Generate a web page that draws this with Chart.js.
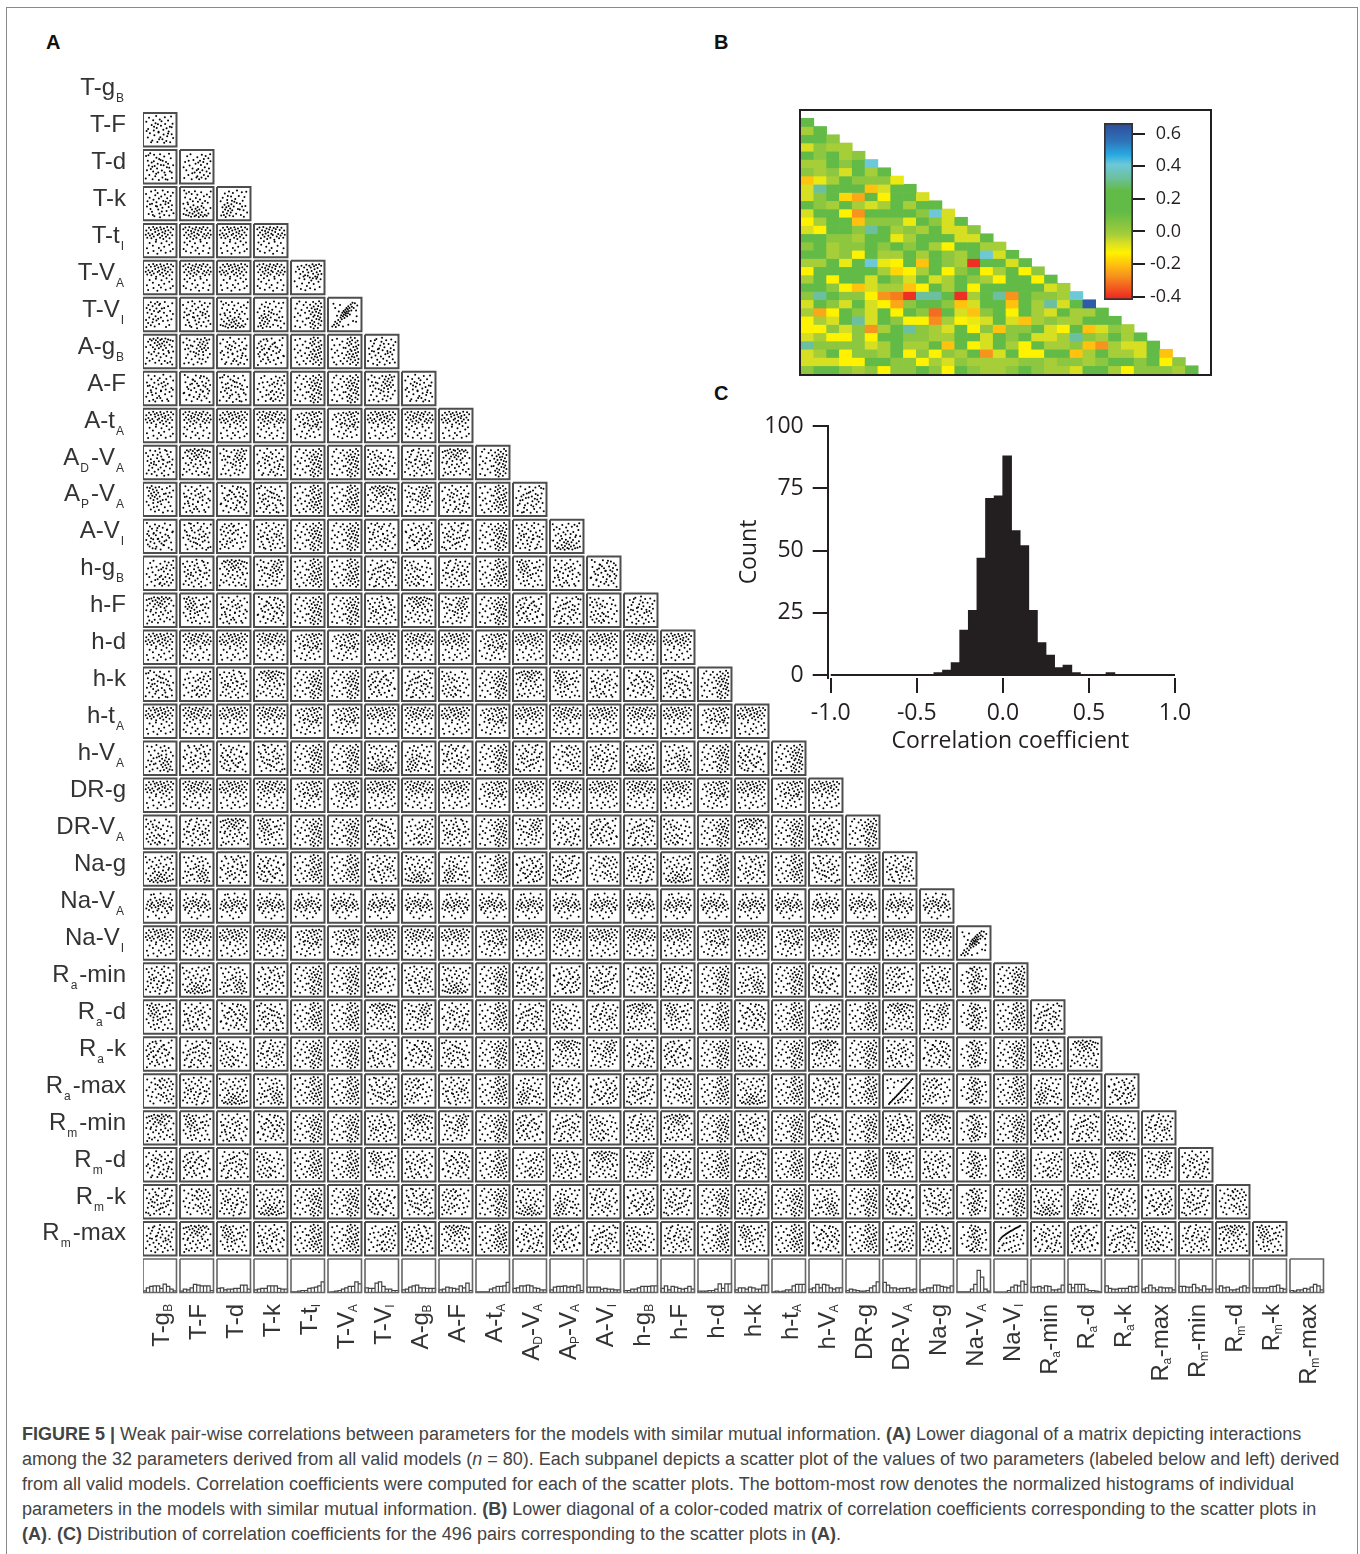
<!DOCTYPE html>
<html>
<head>
<meta charset="utf-8">
<script src="https://cdn.jsdelivr.net/npm/chart.js@4"></script>
<style>
  body { margin: 0; background: #fff; color: #231f20; font-family: "Liberation Sans", sans-serif; }
  #page { position: relative; width: 1360px; height: 1554px; overflow: hidden; }
  #page canvas { position: absolute; }
  .outline { position: absolute; left: 6px; top: 7px; width: 1350px; height: 1560px; border: 1px solid #8a8a8a; }
  .letter { position: absolute; font-weight: bold; font-size: 20px; color: #111; }
  .rowLabel { position: absolute; right: 1234px; font-size: 24px; line-height: 28px; white-space: nowrap; color: #333; }
  .colLabel { position: absolute; top: 1304px; font-size: 24px; line-height: 28px; white-space: nowrap; color: #333;
              writing-mode: vertical-rl; transform: rotate(180deg); }
  sub { font-size: 12px; line-height: 0; vertical-align: -7px; margin-left: 1px; margin-right: 2px; }
  .caption { position: absolute; left: 22px; font-size: 18px; line-height: 22px; white-space: nowrap; color: #444; }
  .heatFrame { position: absolute; left: 799px; top: 109px; width: 409px; height: 263px; border: 2px solid #231f20; }
</style>
</head>
<body>
<div id="page">
  <div class="outline"></div>
  <div class="letter" style="left:46px;top:31px">A</div>
  <div class="letter" style="left:714px;top:31px">B</div>
  <div class="letter" style="left:714px;top:382px">C</div>
  <canvas id="matrixChart" width="1360" height="1400" style="left:0;top:0"></canvas>
  <div class="heatFrame"></div>
  <canvas id="heatChart" width="410" height="264" style="left:801px;top:110px"></canvas>
  <canvas id="barChart" width="100" height="200" style="left:1095px;top:113px"></canvas>
  <canvas id="histChart" width="470" height="350" style="left:730px;top:410px"></canvas>
  <div class="caption" style="top:1423px"><b>FIGURE 5 |</b> Weak pair-wise correlations between parameters for the models with similar mutual information. <b>(A)</b> Lower diagonal of a matrix depicting interactions</div>
  <div class="caption" style="top:1448px">among the 32 parameters derived from all valid models (<i>n</i> = 80). Each subpanel depicts a scatter plot of the values of two parameters (labeled below and left) derived</div>
  <div class="caption" style="top:1473px">from all valid models. Correlation coefficients were computed for each of the scatter plots. The bottom-most row denotes the normalized histograms of individual</div>
  <div class="caption" style="top:1498px">parameters in the models with similar mutual information. <b>(B)</b> Lower diagonal of a color-coded matrix of correlation coefficients corresponding to the scatter plots in</div>
  <div class="caption" style="top:1523px"><b>(A)</b>. <b>(C)</b> Distribution of correlation coefficients for the 496 pairs corresponding to the scatter plots in <b>(A)</b>.</div>
</div>

<script>
// ***** parameter names, rows and columns of panel A *****
var paramLabels = ['T-g<sub>B</sub>', 'T-F', 'T-d', 'T-k', 'T-t<sub>I</sub>', 'T-V<sub>A</sub>', 'T-V<sub>I</sub>', 'A-g<sub>B</sub>', 'A-F', 'A-t<sub>A</sub>',
  'A<sub>D</sub>-V<sub>A</sub>', 'A<sub>P</sub>-V<sub>A</sub>', 'A-V<sub>I</sub>', 'h-g<sub>B</sub>', 'h-F', 'h-d', 'h-k', 'h-t<sub>A</sub>', 'h-V<sub>A</sub>',
  'DR-g', 'DR-V<sub>A</sub>', 'Na-g', 'Na-V<sub>A</sub>', 'Na-V<sub>I</sub>', 'R<sub>a</sub>-min', 'R<sub>a</sub>-d', 'R<sub>a</sub>-k', 'R<sub>a</sub>-max',
  'R<sub>m</sub>-min', 'R<sub>m</sub>-d', 'R<sub>m</sub>-k', 'R<sub>m</sub>-max'];

// ***** bottom row of A: 10 bins per parameter, percent of the panel height, read by eye *****
var paramHists = [
  [5,14,18,20,20,12,25,18,10,5], [4,10,8,14,24,22,20,20,20,6], [12,14,8,10,10,12,12,22,22,10], [8,10,12,12,20,20,20,12,10,10],
  [2,2,4,6,6,12,14,16,20,32], [1,2,4,6,10,14,18,18,32,26], [14,12,12,28,32,18,10,10,6,6], [8,10,16,20,22,14,14,12,12,12],
  [8,10,16,14,12,10,20,14,28,6], [2,2,2,2,10,14,18,18,20,30], [12,14,20,20,22,20,14,12,8,8], [8,16,18,18,20,16,18,16,22,6],
  [16,16,16,16,10,12,10,10,8,8], [6,6,10,10,14,18,18,18,20,20], [12,20,8,18,16,12,10,12,18,10], [4,4,4,6,6,10,26,12,26,26],
  [8,14,14,10,16,14,10,10,22,22], [2,4,2,4,8,8,20,24,24,24], [10,14,24,14,24,22,14,10,14,14], [6,10,8,6,4,4,6,14,20,32],
  [30,22,14,14,10,12,12,14,8,10], [8,10,14,14,22,22,18,16,14,20], [2,2,2,2,10,24,66,46,10,4], [1,1,1,1,6,16,22,20,34,24],
  [16,16,18,14,20,18,8,8,10,22], [24,14,24,24,24,10,6,6,4,2], [20,12,10,10,12,12,12,18,16,18], [10,14,22,14,8,16,14,14,14,8],
  [18,18,16,16,24,14,8,20,10,10], [10,20,14,16,8,8,10,16,20,14], [14,14,14,14,14,18,18,22,12,10], [6,4,8,8,12,10,16,24,20,8]
];

// ***** A has 496 panels x 80 points, too small to read one by one.
// These are hand typed sample clouds (x,y pairs, 0-100) in the look of the zoomed panels,
// panels reuse them, so single dots do NOT match the original panel for panel *****
var cloudA = [11,83,17,91,19,72,23,87,27,64,29,93,33,79,34,58,37,88,41,70,43,95,44,82,47,61,49,74,52,89,54,67,57,92,58,77,61,55,64,84,66,70,69,94,71,62,74,81,78,90,79,52,83,73,86,88,91,66,94,85,13,47,22,41,31,49,39,36,46,44,53,31,63,42,72,35,81,46,89,29,95,50,7,28,16,19,26,25,35,12,48,20,56,8,67,18,76,11,85,16,92,6,4,65,3,9];
var cloudB = [6,34,8,36,12,71,15,12,18,55,20,88,25,27,26,29,28,63,31,44,33,7,36,80,38,79,40,21,42,52,47,94,48,38,51,67,52,15,55,58,57,59,60,30,61,85,63,46,66,10,68,73,70,39,71,41,74,90,76,24,79,56,81,68,83,17,86,48,88,33,90,77,93,5,95,62,10,95,22,48,34,66,44,74,58,22,64,92,72,60,84,84,92,42];
var cloudC = [4,18,7,60,9,42,13,85,16,30,19,68,21,9,24,50,24,77,29,37,32,92,35,22,37,58,39,45,43,14,45,70,47,33,49,83,53,54,55,26,59,64,60,6,62,41,65,88,67,19,69,52,73,75,75,32,77,11,80,61,82,90,85,40,87,24,89,71,91,55,94,13,96,82,27,88,41,60,51,96,70,44,57,76,17,52,79,48,35,5];
var cloudD = [5,77,10,24,11,52,14,90,17,38,23,66,25,14,28,82,30,47,32,31,36,72,38,96,40,56,42,9,46,41,46,43,50,84,52,25,54,63,56,78,59,18,62,50,63,34,67,92,68,69,72,12,73,55,75,28,78,81,80,44,84,60,85,8,88,94,90,35,93,70,95,22,21,8,31,60,44,68,48,18,65,6,78,37,6,46,90,58];
var cloudE = [52,18,55,42,58,8,61,30,64,56,66,14,69,38,72,66,74,22,77,48,80,9,83,34,85,60,88,18,91,44,94,28,96,68,8,12,11,66,15,38,18,85,22,22,26,54,29,92,33,8,36,44,39,72,43,30,46,60,49,14,52,82,55,64,61,70,67,90,74,76,80,86,89,78,95,92,35,28,50,38,23,70,6,48];
var cloudF = [12,62,14,78,17,88,19,54,21,70,23,95,25,62,27,83,29,48,31,74,33,58,36,90,38,66,40,80,42,52,45,72,48,92,50,60,52,44,13,30,20,16,28,38,34,9,41,26,47,14,55,34,58,84,61,6,64,68,67,24,71,50,74,88,77,12,80,40,83,72,86,28,89,58,92,10,95,80,6,42,8,90,44,40,60,48,70,70,78,60,30,24,84,94];
var cloudG = [5,55,9,12,13,78,16,35,19,93,24,6,26,48,29,66,31,22,35,84,37,55,41,14,43,37,47,72,49,92,53,5,55,30,57,60,59,44,61,80,65,18,67,52,69,90,72,34,74,8,77,64,80,42,82,95,85,22,87,54,90,70,93,38,96,86,97,10,10,30,22,60,34,30,46,56,70,68,88,88,62,26,40,70,30,8,18,46,52,76,75,50];
// more points near the top of the panel (parameter skewed to one side), swapped it leans right
var cloudTop = [5,88,8,68,12,94,14,77,17,58,21,85,23,70,25,96,29,63,31,82,33,74,36,91,38,55,41,78,42,66,45,87,48,95,49,60,52,73,55,84,57,69,60,92,62,53,65,79,67,88,70,64,72,96,75,72,78,58,80,86,83,67,86,93,88,75,92,60,95,84,9,44,18,36,27,48,35,29,44,41,53,25,63,46,73,33,84,42,93,24,14,14,30,9,46,17,58,6,71,15,89,8,6,22,97,70];
// top right corner, both parameters skewed
var cloudTopRight = [95,90,91,72,88,95,85,60,83,82,80,68,78,92,75,54,73,78,71,88,68,63,66,95,63,72,60,84,57,50,55,90,52,67,48,76,45,93,41,58,38,84,34,70,29,90,25,62,21,78,16,86,10,70,93,44,86,36,79,46,70,28,62,40,54,33,47,22,39,44,31,30,22,48,14,20,6,38,90,18,74,10,58,14,42,7,27,12,96,62,82,52,67,48,50,56,36,54];
// wide horizontal band, used for the Na-V_A row and column
var cloudBand = [6,52,9,70,11,38,15,61,18,47,20,76,24,56,26,33,29,66,32,43,35,58,37,80,40,49,43,29,45,64,48,54,50,72,54,41,56,60,58,35,61,68,64,46,66,78,69,53,72,31,75,62,77,44,81,71,83,50,86,37,89,65,92,55,95,42,14,90,33,12,47,92,63,18,79,88,90,14,22,26,52,8,70,90,38,68,55,50,78,57,12,44];
// strong panels, easy to see in the picture
var cloudLine = [14,6,17,10,20,13,24,17,27,21,31,24,34,28,38,31,41,35,45,39,48,42,52,46,55,50,58,53,62,57,66,60,69,65,73,68,76,72,80,76,84,80,88,86,92,90,10,60,8,86,20,90,32,78,18,42,30,62,44,84,56,80,62,88,90,40,78,30,86,18,94,60,70,20,58,28,62,12,46,10,34,8,76,52,68,44,52,22,44,18,72,92];
var cloudCurve = [10,42,14,48,18,53,22,57,26,60,30,63,34,66,38,69,42,71,46,74,50,76,54,78,58,80,62,83,66,85,70,87,74,89,78,91,82,94,12,18,8,8,22,28,30,10,36,36,44,14,48,40,52,20,56,6,60,44,64,26,68,10,72,56,76,30,80,16,84,48,88,62,92,34,18,88,32,86,46,92,94,78,60,60,36,52,26,34,70,66,48,56];
var cloudCluster = [8,10,14,16,20,8,18,26,24,20,28,32,30,14,34,26,36,40,38,48,40,34,42,56,44,44,46,62,47,50,49,38,50,58,52,66,53,48,54,54,56,72,57,60,58,44,60,68,61,54,62,78,64,62,66,72,67,50,70,84,72,64,74,76,76,90,80,72,84,88,88,64,92,80,18,72,12,86,34,82,78,28,88,26,62,16,44,10,90,44,30,60,24,46];

// panels with an obvious relation: row, column, cloud
var specialPanels = [[27, 20, cloudLine], [31, 23, cloudCurve], [23, 22, cloudCluster], [6, 5, cloudCluster]];
var skewedParams = [4, 5, 9, 15, 17, 19, 23]; // histogram leans to high values
var mixClouds = [cloudA, cloudB, cloudC, cloudD, cloudE, cloudF, cloudG];

var heatRows = [
  [.12],
  [-.02,.12],
  [.12,.12,.03],
  [-.07,.03,-.02,-.02],
  [.12,.03,.12,-.02,.03],
  [-.02,-.02,.12,.03,.12,.41],
  [.03,-.02,.03,-.07,.12,-.02,.12],
  [-.2,-.1,-.02,.12,.03,.03,.03,-.1],
  [-.07,.33,.12,.12,.12,-.2,-.07,.12,.12],
  [-.07,.03,.12,-.17,-.24,.12,-.13,.12,.12,-.07],
  [.12,.03,-.02,.12,-.02,-.07,-.02,.12,-.02,.12,.12],
  [-.07,.12,.12,-.13,-.27,.12,.12,.12,.12,.03,.41,-.07],
  [-.13,-.02,.12,.12,-.2,.03,.03,.03,-.1,.12,.03,-.07,.12],
  [-.07,-.13,.12,.12,.03,.33,.12,-.02,.03,-.02,.12,-.07,-.07,.03],
  [.12,.12,.03,.03,-.02,.12,.12,-.1,-.02,.12,.12,.12,-.07,-.07,.12],
  [.03,.12,-.02,.03,.03,.12,.03,.12,.03,.12,-.02,-.13,.12,.12,-.02,-.02],
  [.12,.12,-.02,.03,-.13,.12,-.02,-.02,.12,-.02,.12,.03,-.02,.12,.41,-.07,.12],
  [-.02,-.02,.12,-.1,.12,.41,-.1,-.13,.12,-.2,.12,.03,-.02,-.4,.12,.12,-.07,.12],
  [-.13,.12,.12,.12,.12,.12,-.02,-.17,-.13,-.02,.12,-.13,.03,.12,-.13,-.02,.12,-.13,.03],
  [-.02,.12,-.13,.12,.12,-.07,.12,.03,-.07,.12,-.07,-.02,.12,.03,-.02,-.13,.12,.12,-.13,.12],
  [.12,.12,.03,-.13,-.2,-.07,-.02,-.02,-.2,-.13,.12,-.02,.12,-.13,.12,.12,.12,.12,.12,-.07,-.02],
  [.03,.33,.12,.03,.03,-.13,-.27,-.3,-.4,.33,.33,.12,-.4,-.02,.12,.33,-.27,.12,.03,.03,-.02,.41],
  [-.07,.12,.03,-.07,.12,-.07,-.13,-.24,.03,.12,.12,.03,-.2,-.07,.12,.12,-.2,.12,-.02,.33,-.07,.12,.62],
  [-.02,-.24,-.13,.12,.03,-.07,.12,-.13,.12,.03,-.32,.12,-.07,-.2,.03,.12,-.13,.12,-.02,-.07,.12,-.02,-.02,.12],
  [-.13,-.02,-.07,.12,.33,-.07,.12,.03,-.13,-.13,-.28,-.02,-.13,-.1,-.07,.12,-.07,-.2,-.02,.03,-.02,-.02,.12,.12,.12],
  [-.13,-.13,.03,-.07,.03,-.27,-.02,.12,.33,.03,-.02,-.07,.12,-.13,.03,-.2,.03,.03,.12,-.07,-.13,.12,-.2,-.07,.03,-.02],
  [-.07,-.02,-.13,-.13,.03,-.13,.12,.12,.03,.03,-.02,-.02,.12,.12,-.07,.12,.03,.12,-.07,-.07,-.02,.33,.03,-.02,.12,-.02,.12],
  [.33,.03,.03,.03,.03,-.07,-.02,.12,-.02,-.02,.12,-.2,.12,-.13,-.07,.12,-.02,-.13,.12,-.02,-.02,.03,-.2,-.27,-.02,-.07,-.07,.12],
  [-.07,-.02,.12,-.13,.03,.03,-.02,.12,-.13,.03,-.13,.03,-.02,.12,-.27,-.07,.12,-.13,-.13,.12,.12,-.2,-.02,.12,-.02,-.02,-.07,.12,-.2],
  [-.07,-.07,-.07,-.13,-.13,.12,.12,.03,.03,-.13,-.02,-.07,.03,-.02,-.02,-.02,-.02,.03,.03,-.02,.03,.03,-.02,.03,.12,.12,.03,.12,-.13,.03],
  [.03,.12,.12,.03,-.02,.03,-.13,.03,.03,.12,.03,-.13,.12,.03,-.02,-.02,.03,.12,.03,-.02,-.02,-.07,.12,.12,-.02,-.13,.03,.03,.03,-.02,.12]
];
var barTicks = [-0.4, -0.2, 0, 0.2, 0.4, 0.6];
var colorStopValues = [-0.42, -0.27, -0.2, -0.13, -0.07, -0.02, 0.03, 0.12, 0.25, 0.33, 0.41, 0.47, 0.55, 0.665];
var colorStopColors = ['#ed2024', '#f7941d', '#ffc20e', '#fff200', '#d7df23', '#a6ce39', '#8dc63f', '#62bb46', '#62bb46', '#6cc0a0', '#6dc8d8', '#27aae1', '#2e75b9', '#2e4b9b'];

// ***** C: counts in 0.05 wide bins *****
var binCenters = [-0.375, -0.325, -0.275, -0.225, -0.175, -0.125, -0.075, -0.025, 0.025, 0.075, 0.125, 0.175, 0.225, 0.275, 0.325, 0.375, 0.425, 0.625];
var binCounts = [1, 2, 5, 18, 26, 47, 71, 72, 88, 58, 52, 26, 13, 8, 3, 4, 1, 1];
var histTicksX = [-1, -0.5, 0, 0.5, 1];
var histTicksY = [0, 25, 50, 75, 100];

// ***** labels of A *****
var page = document.getElementById('page');
paramLabels.forEach(function (label, i) {
  var rowEl = document.createElement('div');
  rowEl.className = 'rowLabel';
  rowEl.style.top = (73 + 36.95 * i) + 'px';
  rowEl.innerHTML = label;
  page.appendChild(rowEl);

  var colEl = document.createElement('div');
  colEl.className = 'colLabel';
  colEl.style.left = (147 + 37 * i) + 'px';
  colEl.innerHTML = label;
  page.appendChild(colEl);
});

// ***** panel A, one chart, axes hidden: x = column, y = row *****
var panelSize = 0.905;

function cloudFor(row, col) {
  for (var s = 0; s < specialPanels.length; s++) {
    if (specialPanels[s][0] === row && specialPanels[s][1] === col) return { pts: specialPanels[s][2], flipX: false, flipY: false, swap: false };
  }
  var rowSkew = skewedParams.indexOf(row) >= 0;
  var colSkew = skewedParams.indexOf(col) >= 0;
  if (row === 22) return { pts: cloudBand, flipX: col % 2 === 0, flipY: false, swap: false };
  if (col === 22) return { pts: cloudBand, flipX: false, flipY: row % 2 === 0, swap: true };
  if (rowSkew && colSkew) return { pts: cloudTopRight, flipX: false, flipY: false, swap: false };
  if (rowSkew) return { pts: cloudTop, flipX: col % 2 === 0, flipY: false, swap: false };
  if (colSkew) return { pts: cloudTop, flipX: false, flipY: row % 2 === 0, swap: true };
  return { pts: mixClouds[(row * 3 + col * 5) % mixClouds.length], flipX: (row + col) % 2 === 0, flipY: row % 3 === 0, swap: false };
}

var dots = [];
var frames = [];
var histLines = [];

function addFrame(list, col, row) {
  list.push({ x: col, y: row }, { x: col + panelSize, y: row }, { x: col + panelSize, y: row + panelSize },
    { x: col, y: row + panelSize }, { x: col, y: row }, { x: NaN, y: NaN });
}

for (var row = 1; row < paramLabels.length; row++) {
  for (var col = 0; col < row; col++) {
    addFrame(frames, col, row);
    var c = cloudFor(row, col);
    for (var p = 0; p < c.pts.length; p += 2) {
      var u = c.swap ? c.pts[p + 1] : c.pts[p];
      var v = c.swap ? c.pts[p] : c.pts[p + 1];
      if (c.flipX) u = 100 - u;
      if (c.flipY) v = 100 - v;
      dots.push({ x: col + 0.05 + u / 100 * (panelSize - 0.1), y: row + panelSize - 0.05 - v / 100 * (panelSize - 0.1) });
    }
  }
}

var histRow = paramLabels.length;
var histFrames = [];
paramHists.forEach(function (bins, col) {
  addFrame(histFrames, col, histRow);
  var binW = panelSize / bins.length;
  var base = histRow + panelSize;
  bins.forEach(function (h, b) {
    var top = base - h / 100 * panelSize;
    histLines.push({ x: col + b * binW, y: base }, { x: col + b * binW, y: top }, { x: col + (b + 1) * binW, y: top }, { x: col + (b + 1) * binW, y: base });
  });
  histLines.push({ x: col, y: base }, { x: NaN, y: NaN });
});

new Chart(document.getElementById('matrixChart').getContext('2d'), {
  type: 'scatter',
  data: {
    datasets: [
      { data: frames, showLine: true, borderColor: '#4d4d4d', borderWidth: 2, pointRadius: 0, spanGaps: false },
      { data: histFrames, showLine: true, borderColor: '#666', borderWidth: 1.6, pointRadius: 0, spanGaps: false },
      { data: histLines, showLine: true, borderColor: '#444', borderWidth: 1.2, pointRadius: 0, spanGaps: false },
      { data: dots, backgroundColor: '#000', borderWidth: 0, pointRadius: 1 }
    ]
  },
  options: {
    responsive: false,
    animation: false,
    layout: { padding: { left: 143, right: 33, top: 76, bottom: 104 } },
    plugins: { legend: { display: false }, tooltip: { enabled: false } },
    scales: {
      x: { display: false, min: 0, max: 32 },
      y: { display: false, min: 0, max: 33, reverse: true }
    }
  }
});

// ***** panel B *****
function hexToRgb(hex) {
  return [parseInt(hex.substr(1, 2), 16), parseInt(hex.substr(3, 2), 16), parseInt(hex.substr(5, 2), 16)];
}

function heatColor(value) {
  for (var i = 0; i < colorStopValues.length - 1; i++) {
    if (value <= colorStopValues[i + 1]) {
      var t = Math.max(0, (value - colorStopValues[i]) / (colorStopValues[i + 1] - colorStopValues[i]));
      var a = hexToRgb(colorStopColors[i]);
      var b = hexToRgb(colorStopColors[i + 1]);
      return 'rgb(' + Math.round(a[0] + (b[0] - a[0]) * t) + ',' + Math.round(a[1] + (b[1] - a[1]) * t) + ',' + Math.round(a[2] + (b[2] - a[2]) * t) + ')';
    }
  }
  return colorStopColors[colorStopColors.length - 1];
}

var heatCols = paramLabels.map(function (d, i) { return i; });
var heatDatasets = heatRows.map(function (cells, r) {
  return {
    grouped: false,
    barPercentage: 1,
    categoryPercentage: 1,
    data: heatCols.map(function (c) { return c < cells.length ? [r + 1, r + 2] : null; }),
    backgroundColor: heatCols.map(function (c) { return c < cells.length ? heatColor(cells[c]) : 'rgba(0,0,0,0)'; })
  };
});

new Chart(document.getElementById('heatChart').getContext('2d'), {
  type: 'bar',
  data: { labels: heatCols, datasets: heatDatasets },
  options: {
    responsive: false,
    animation: false,
    plugins: { legend: { display: false }, tooltip: { enabled: false } },
    scales: {
      x: { display: false },
      y: { display: false, min: 0, max: 32, reverse: true }
    }
  }
});

// ***** colour bar of B *****
function barGradient(context) {
  var area = context.chart.chartArea;
  if (!area) return '#62bb46';
  var yScale = context.chart.scales.y;
  var g = context.chart.ctx.createLinearGradient(0, area.bottom, 0, area.top);
  var range = yScale.max - yScale.min;
  colorStopValues.forEach(function (v, i) {
    g.addColorStop((v - yScale.min) / range, colorStopColors[i]);
  });
  return g;
}

new Chart(document.getElementById('barChart').getContext('2d'), {
  type: 'bar',
  data: {
    labels: [''],
    datasets: [{ data: [[-0.42, 0.665]], backgroundColor: barGradient, borderColor: '#333', borderWidth: 2, borderSkipped: false, barPercentage: 1, categoryPercentage: 1 }]
  },
  options: {
    responsive: false,
    animation: false,
    layout: { padding: { left: 9, top: 10, bottom: 13, right: 14 } },
    plugins: { legend: { display: false }, tooltip: { enabled: false } },
    scales: {
      x: { display: false },
      y: {
        position: 'right',
        min: -0.42,
        max: 0.665,
        afterBuildTicks: function (s) { s.ticks = barTicks.map(function (v) { return { value: v }; }); },
        afterFit: function (s) { s.width = 48; s.paddingTop = 0; s.paddingBottom = 0; },
        border: { display: false },
        grid: { drawOnChartArea: false, color: '#231f20', lineWidth: 2, tickLength: 12 },
        ticks: {
          crossAlign: 'far',
          padding: 6,
          color: '#231f20',
          font: { family: 'Open Sans', size: 18 },
          callback: function (v) { return v.toFixed(1); }
        }
      }
    }
  }
});

// ***** panel C *****
new Chart(document.getElementById('histChart').getContext('2d'), {
  type: 'bar',
  data: {
    datasets: [{
      data: binCenters.map(function (x, i) { return { x: x, y: binCounts[i] }; }),
      backgroundColor: '#231f20',
      barThickness: 8.9
    }, {
      // flat base line under the whole range
      type: 'line',
      data: [{ x: -1, y: 0 }, { x: 1, y: 0 }],
      borderColor: '#231f20',
      borderWidth: 2,
      pointRadius: 0
    }]
  },
  options: {
    responsive: false,
    animation: false,
    layout: { padding: { top: 16, right: 25, bottom: 5, left: 6 } },
    plugins: { legend: { display: false }, tooltip: { enabled: false } },
    scales: {
      x: {
        type: 'linear',
        offset: false,
        min: -1.0175,
        max: 1,
        afterBuildTicks: function (s) { s.ticks = histTicksX.map(function (v) { return { value: v }; }); },
        afterFit: function (s) { s.height = 77; s.paddingLeft = 0; s.paddingRight = 0; },
        border: { display: false },
        grid: { offset: false, drawOnChartArea: false, color: '#231f20', lineWidth: 2, tickLength: 15 },
        ticks: {
          maxRotation: 0,
          padding: 7,
          color: '#231f20',
          font: { family: 'Open Sans', size: 23 },
          callback: function (v) { return v.toFixed(1); }
        },
        title: { display: true, text: '\u00a0\u00a0\u00a0Correlation coefficient', color: '#231f20', font: { family: 'Open Sans', size: 23 }, padding: { top: 0, bottom: 0 } }
      },
      y: {
        min: -1.2,
        max: 100,
        afterBuildTicks: function (s) { s.ticks = histTicksY.map(function (v) { return { value: v }; }); },
        afterFit: function (s) { s.width = 91.7; s.paddingTop = 0; s.paddingBottom = 0; },
        border: { display: true, color: '#231f20', width: 2 },
        grid: { drawOnChartArea: false, color: '#231f20', lineWidth: 2, tickLength: 15 },
        ticks: {
          padding: 9,
          color: '#231f20',
          font: { family: 'Open Sans', size: 23 }
        },
        title: { display: true, text: 'Count', color: '#231f20', font: { family: 'Open Sans', size: 23 }, padding: { top: 0, bottom: 0 } }
      }
    }
  }
});
</script>
</body>
</html>
